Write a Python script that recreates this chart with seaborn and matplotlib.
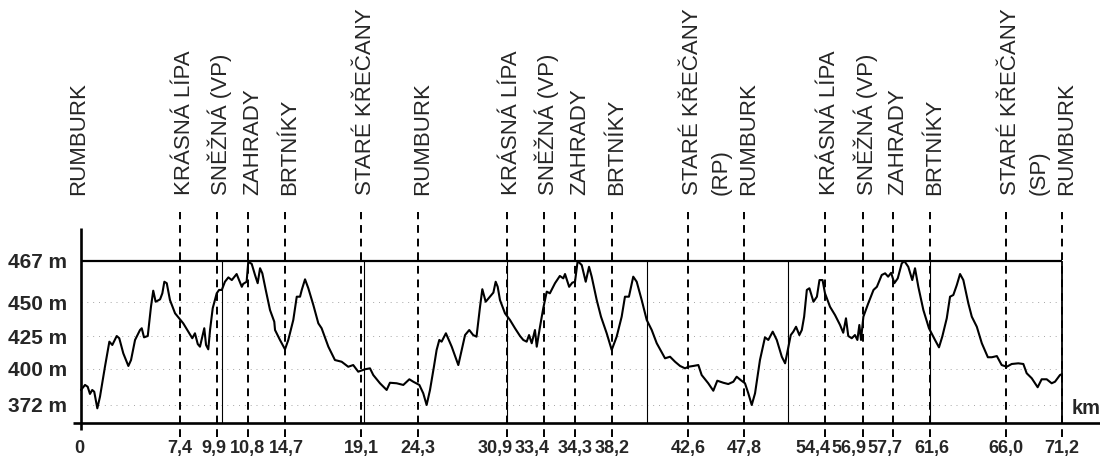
import numpy as np
import matplotlib
matplotlib.use("Agg")
import matplotlib.pyplot as plt
import matplotlib.transforms as mtransforms
import seaborn as sns

# ---------------- data ----------------
stop_km = [0, 7.4, 9.9, 10.8, 14.7, 19.1, 24.3, 30.9, 33.4, 34.3, 38.2,
           42.6, 47.8, 54.4, 56.9, 57.7, 61.6, 66.0, 71.2]
stop_km_labels = ["0", "7,4", "9,9", "10,8", "14,7", "19,1", "24,3", "30,9",
                  "33,4", "34,3", "38,2", "42,6", "47,8", "54,4", "56,9",
                  "57,7", "61,6", "66,0", "71,2"]
stop_names = ["RUMBURK", "KRÁSNÁ LÍPA", "SNĚŽNÁ (VP)", "ZAHRADY", "BRTNÍKY",
              "STARÉ KŘEČANY", "RUMBURK", "KRÁSNÁ LÍPA", "SNĚŽNÁ (VP)",
              "ZAHRADY", "BRTNÍKY", "STARÉ KŘEČANY", "RUMBURK", "KRÁSNÁ LÍPA",
              "SNĚŽNÁ (VP)", "ZAHRADY", "BRTNÍKY", "STARÉ KŘEČANY", "RUMBURK"]
stop_notes = ["", "", "", "", "", "", "", "", "", "", "", "(RP)", "", "", "",
              "", "", "(SP)", ""]

elev_ticks = [372, 400, 425, 450, 467]
elev_tick_labels = ["372 m", "400 m", "425 m", "450 m", "467 m"]
grid_elev = [372, 400, 425, 450]
frame_km = [10.05, 19.4, 30.9, 40.2, 51.4, 61.6]

profile_km = [
    0.00, 0.30, 0.50, 0.67, 0.84, 0.99, 1.22, 1.42, 1.79, 2.12,
    2.34, 2.67, 2.86, 3.16, 3.54, 3.74, 4.04, 4.41, 4.54, 4.71,
    4.99, 5.23, 5.40, 5.58, 5.91, 6.08, 6.23, 6.41, 6.65, 7.03,
    7.40, 7.62, 7.96, 8.23, 8.41, 8.60, 8.75, 8.93, 9.04, 9.16,
    9.31, 9.43, 9.61, 9.88, 9.96, 10.04, 10.13, 10.23, 10.33, 10.47,
    10.54, 10.62, 10.66, 10.76, 10.83, 11.19, 11.54, 11.82, 12.07, 12.31,
    12.67, 13.12, 13.57, 13.65, 14.17, 14.70, 14.89, 15.18, 15.38, 15.57,
    15.67, 15.86, 16.05, 16.34, 16.63, 16.82, 17.21, 17.59, 17.98, 18.36,
    18.65, 18.94, 19.46, 19.92, 20.22, 20.83, 21.44, 21.74, 22.35, 22.96,
    23.51, 23.87, 24.40, 24.69, 24.94, 25.19, 25.48, 25.68, 25.88, 26.05,
    26.37, 26.80, 27.29, 27.54, 27.79, 28.10, 28.39, 28.64, 28.90, 29.07,
    29.32, 29.64, 29.89, 30.06, 30.21, 30.38, 30.75, 31.10, 31.44, 31.78,
    32.00, 32.23, 32.39, 32.57, 32.79, 32.91, 33.13, 33.35, 33.48, 33.57,
    33.72, 33.86, 33.96, 34.01, 34.13, 34.22, 34.30, 34.58, 35.01, 35.43,
    35.78, 36.06, 36.59, 37.04, 37.64, 38.17, 38.47, 38.76, 38.95, 39.18,
    39.43, 39.63, 39.92, 40.21, 40.50, 40.79, 41.27, 41.56, 41.85, 42.14,
    42.43, 42.63, 43.09, 43.56, 43.87, 44.48, 44.95, 45.32, 45.88, 46.34,
    46.81, 47.12, 47.49, 47.88, 48.15, 48.43, 48.70, 49.10, 49.51, 49.78,
    50.14, 50.47, 50.88, 51.15, 51.42, 51.61, 51.82, 52.04, 52.31, 52.51,
    52.70, 52.92, 53.13, 53.46, 53.74, 53.95, 54.20, 54.40, 54.73, 55.06,
    55.39, 55.60, 55.78, 55.93, 56.16, 56.37, 56.53, 56.66, 56.77, 56.91,
    57.04, 57.18, 57.27, 57.40, 57.49, 57.57, 57.65, 57.84, 58.20, 58.62,
    58.89, 59.31, 59.73, 60.02, 60.37, 60.90, 61.49, 61.89, 62.12, 62.31,
    62.57, 62.76, 62.95, 63.15, 63.34, 63.53, 63.82, 64.02, 64.31, 64.60,
    64.95, 65.18, 65.47, 65.75, 66.07, 66.53, 67.14, 67.61, 67.92, 68.39,
    68.94, 69.31, 69.78, 70.24, 70.55, 71.01, 71.20,
]
profile_m = [
    383.7, 387.6, 386.2, 380.6, 383.7, 382.3, 369.4, 378.5, 401.7, 420.7,
    418.2, 425.0, 423.3, 411.9, 402.3, 406.8, 422.0, 429.4, 430.7, 424.0,
    425.0, 446.5, 454.7, 450.1, 451.1, 453.6, 458.4, 457.8, 450.8, 441.7,
    437.3, 434.3, 428.2, 423.3, 427.0, 418.9, 416.9, 425.7, 430.7, 418.2,
    414.9, 429.4, 445.4, 453.6, 455.0, 455.0, 458.4, 460.2, 459.1, 461.6,
    459.1, 456.3, 457.5, 458.4, 466.7, 465.8, 461.2, 457.8, 464.0, 461.9,
    455.0, 444.1, 435.5, 429.4, 422.0, 414.9, 422.0, 436.8, 452.2, 452.2,
    455.0, 459.4, 455.7, 447.8, 434.3, 430.7, 416.9, 406.8, 405.5, 401.7,
    403.0, 397.9, 399.8, 400.5, 395.3, 388.9, 383.7, 389.3, 388.9, 387.6,
    392.0, 390.1, 387.6, 381.1, 372.0, 383.7, 401.7, 414.4, 422.0, 420.7,
    427.0, 416.9, 403.0, 414.4, 425.7, 429.4, 425.7, 424.5, 446.5, 455.3,
    450.1, 452.2, 453.9, 458.4, 456.3, 450.8, 441.7, 436.8, 430.7, 425.0,
    422.0, 420.7, 425.7, 419.5, 429.4, 416.9, 431.8, 445.4, 454.3, 453.6,
    457.8, 460.8, 459.8, 461.6, 456.3, 458.0, 458.4, 467.0, 465.3, 458.4,
    464.6, 460.5, 450.8, 439.2, 427.0, 414.4, 424.5, 439.2, 452.2, 452.2,
    460.5, 458.4, 450.8, 436.8, 429.4, 419.5, 408.1, 409.3, 405.5, 402.3,
    400.5, 401.7, 402.3, 403.0, 395.3, 388.9, 383.1, 390.9, 389.3, 388.3,
    390.1, 394.0, 391.4, 388.9, 381.1, 372.0, 381.1, 406.8, 424.0, 422.0,
    428.2, 422.0, 409.3, 404.3, 416.9, 425.7, 428.2, 431.8, 425.7, 429.4,
    439.2, 455.0, 455.7, 450.1, 452.2, 459.1, 459.1, 453.6, 446.5, 440.4,
    433.1, 427.4, 438.0, 425.0, 423.3, 425.7, 422.0, 433.1, 422.0, 439.2,
    449.0, 455.0, 456.3, 461.2, 461.9, 460.5, 462.1, 457.8, 459.8, 466.0,
    467.0, 464.6, 459.1, 464.0, 456.3, 444.1, 430.7, 422.0, 416.4, 424.5,
    438.0, 452.2, 452.9, 457.0, 461.6, 459.1, 449.0, 439.2, 431.8, 419.5,
    408.9, 408.9, 409.8, 403.0, 401.7, 403.8, 404.3, 403.8, 396.7, 392.8,
    385.8, 392.0, 392.0, 388.9, 390.1, 395.3, 396.0,
]

# ---------------- layout (schematic spacing of the original drawing) ----------------
W, H = 1100, 459
X_KM = [-0.6] + stop_km + [74.7]
X_PX = [73, 81, 180, 217, 248, 285, 361, 418, 507, 544, 575, 612, 688, 744,
        825, 863, 893, 930, 1006, 1062, 1100]
Y_M = [347.1, 358, 372, 400, 425, 450, 467, 487.3]
Y_PX = [437, 423, 405, 369, 336, 302, 261, 212]
# horizontal nudges (pixels) of the km labels in crowded places
XTICK_NUDGE = [-2, 0, -3, -1, 1, 0, 0, -12, -12, 0, 0, 0, 0, -12, -14, -8, 2, 0, 0]
PT = 0.72  # points per pixel


def xf(v):
    return np.interp(v, X_KM, X_PX)


def xi(p):
    return np.interp(p, X_PX, X_KM)


def yf(v):
    return -np.interp(v, Y_M, Y_PX)


def yi(p):
    return np.interp(-np.asarray(p), Y_PX[::-1], Y_M[::-1])


sns.set_style("white")
plt.rcParams["font.family"] = ["Liberation Sans", "DejaVu Sans"]

fig = plt.figure(figsize=(W / 100, H / 100), dpi=100)
ax = fig.add_axes([X_PX[0] / W, (H - Y_PX[0]) / H,
                   (X_PX[-1] - X_PX[0]) / W, (Y_PX[0] - Y_PX[-1]) / H])
ax.set_xscale("function", functions=(xf, xi))
ax.set_yscale("function", functions=(yf, yi))
for s in ax.spines.values():
    s.set_visible(False)

# faint dotted elevation guides
ax.hlines(grid_elev, 0, stop_km[-1], colors="0.65", linestyles=(0, (1, 5)), lw=0.7)

# profile
sns.lineplot(x=profile_km, y=profile_m, ax=ax, color="black", lw=1.5,
             sort=False, estimator=None, zorder=4)

# dashed station lines
ax.vlines(stop_km[1:], Y_M[0], Y_M[-1], colors="black",
          linestyles=(0, (4.0, 3.0)), lw=1.4, zorder=3)
# thin solid frame lines
ax.vlines(frame_km, 358, 467, colors="black", lw=0.8, zorder=3)
ax.vlines(stop_km[-1], 358, 467, colors="black", lw=1.3, zorder=3)
# top line at 467 m
ax.hlines(467, 0, stop_km[-1], colors="black", lw=1.6, zorder=3)
# axes lines
ax.hlines(358, X_KM[0], X_KM[-1], colors="black", lw=1.9, zorder=5, clip_on=False)
ax.vlines(0, 352.6, 480.7, colors="black", lw=1.9, zorder=5, clip_on=False)

ax.set_xlim(X_KM[0], X_KM[-1])
ax.set_ylim(Y_M[0], Y_M[-1])

ax.set_xticks([])
ax.set_yticks(elev_ticks)
ax.set_yticklabels(elev_tick_labels, fontweight="bold", fontsize=15)
ax.tick_params(axis="y", length=0, pad=4.3)
ax.minorticks_off()
ax.set_xlabel("")
ax.set_ylabel("")
ax.grid(False)

trans = mtransforms.blended_transform_factory(ax.transData, ax.transAxes)

# km labels under the axis
for km, lab, dx in zip(stop_km, stop_km_labels, XTICK_NUDGE):
    ax.annotate(lab, xy=(km, 0), xycoords=trans,
                xytext=(dx * PT, -3 * PT), textcoords="offset points",
                ha="center", va="top", fontweight="bold", fontsize=13,
                annotation_clip=False)

ax.text(0.9869, 0.1267, "km", transform=ax.transAxes, ha="center", va="center",
        fontweight="bold", fontsize=14.5)

# station names
label_y = 1 + (Y_PX[-1] - 195) / (Y_PX[0] - Y_PX[-1])
for i, (km, name, note) in enumerate(zip(stop_km, stop_names, stop_notes)):
    dx = 10 if i > 0 else 3
    ax.annotate(name, xy=(km, label_y), xycoords=trans,
                xytext=(dx * PT, 0), textcoords="offset points",
                rotation=90, rotation_mode="anchor", ha="left", va="baseline",
                fontsize=16, annotation_clip=False)
    if note:
        ax.annotate(note, xy=(km, label_y), xycoords=trans,
                    xytext=((dx + 29) * PT, 0), textcoords="offset points",
                    rotation=90, rotation_mode="anchor", ha="left", va="baseline",
                    fontsize=16, annotation_clip=False)

fig.savefig("out.png", dpi=100)
